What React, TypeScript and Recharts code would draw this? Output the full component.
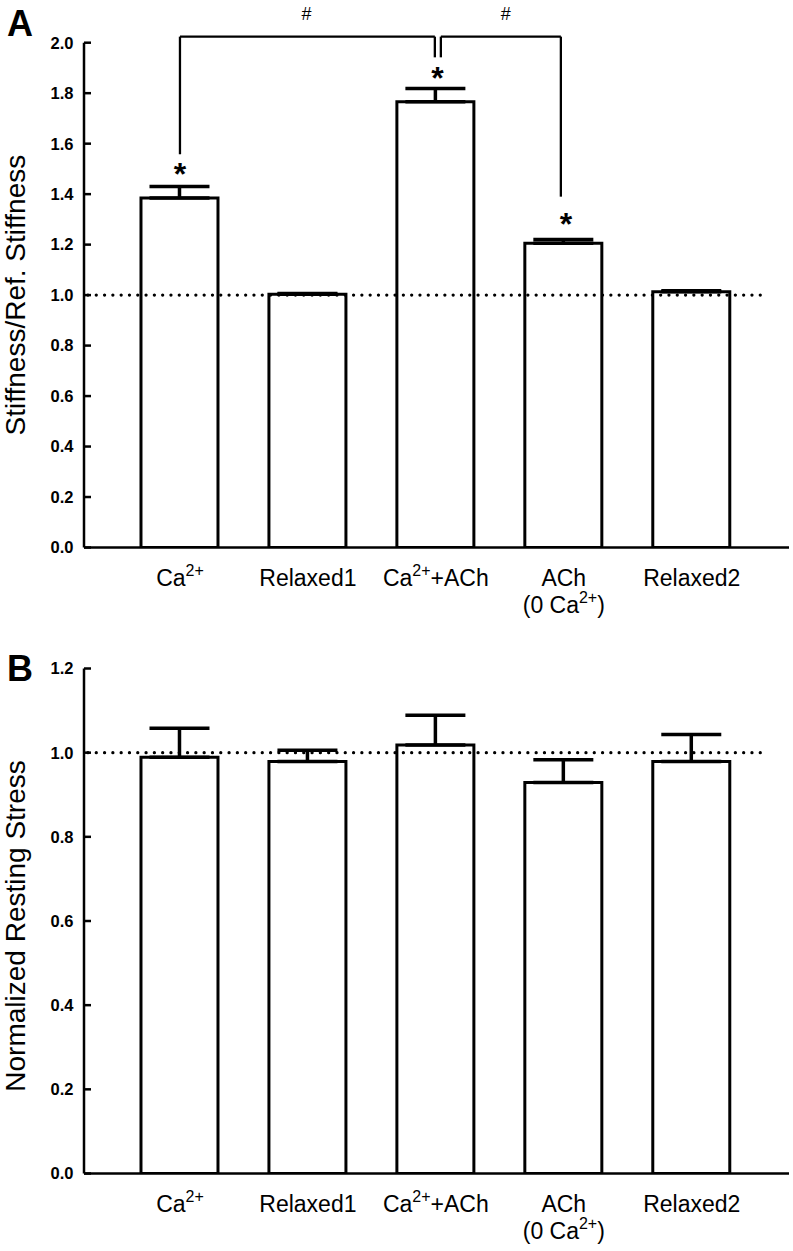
import React from 'react';
import { BarChart, Bar, XAxis, YAxis, ErrorBar, ReferenceLine, ReferenceDot, Label } from 'recharts';

const FONT = '"Liberation Sans", Arial, Helvetica, sans-serif';

// categories (index+1 is the x position on the numeric axis)
const categories = ['Ca2+', 'Relaxed1', 'Ca2++ACh', 'ACh (0 Ca2+)', 'Relaxed2'];
// x tick labels: "^" toggles superscript, "\n" starts a new line
const xTickLabels = ['Ca^2+', 'Relaxed1', 'Ca^2+^+ACh', 'ACh\n(0 Ca^2+^)', 'Relaxed2'];

// Panel A: stiffness / reference stiffness
const stiffnessMean = [1.385, 1.003, 1.766, 1.205, 1.013];
const stiffnessSem = [0.045, 0.003, 0.053, 0.015, 0.004];
const stiffnessTicks = [0, 0.2, 0.4, 0.6, 0.8, 1.0, 1.2, 1.4, 1.6, 1.8, 2.0];

// Panel B: normalized resting stress
const stressMean = [0.989, 0.979, 1.018, 0.929, 0.979];
const stressSem = [0.069, 0.027, 0.071, 0.054, 0.064];
const stressTicks = [0, 0.2, 0.4, 0.6, 0.8, 1.0, 1.2];

// significance annotations (data units)
const starMarks = [
  { x: 1.0, y: 1.508 },
  { x: 3.012, y: 1.888 },
  { x: 4.016, y: 1.311 },
];
const hashMarks = [
  { x: 1.99, y: 2.114 },
  { x: 3.547, y: 2.114 },
];
const bracketSegments = [
  [{ x: 1.0, y: 1.558 }, { x: 1.0, y: 2.024 }],
  [{ x: 1.0, y: 2.024 }, { x: 2.992, y: 2.024 }],
  [{ x: 2.992, y: 2.024 }, { x: 2.992, y: 1.942 }],
  [{ x: 3.039, y: 1.942 }, { x: 3.039, y: 2.024 }],
  [{ x: 3.039, y: 2.024 }, { x: 3.977, y: 2.024 }],
  [{ x: 3.977, y: 2.024 }, { x: 3.977, y: 1.39 }],
];
const refLineSpan = [0.281, 5.586];

const stiffnessData = categories.map((c, i) => ({
  pos: i + 1,
  name: c,
  mean: stiffnessMean[i],
  err: [0, stiffnessSem[i]],
}));
const stressData = categories.map((c, i) => ({
  pos: i + 1,
  name: c,
  mean: stressMean[i],
  err: [0, stressSem[i]],
}));

function CatTick(props: any) {
  const { x, y, payload } = props;
  const idx = Math.round(payload.value) - 1;
  const label = xTickLabels[idx] || '';
  const lines = label.split('\n');
  return (
    <g>
      {lines.map((line, li) => {
        const parts = line.split('^');
        let shift = 0;
        return (
          <text
            key={li}
            x={x}
            y={y + 38 + li * 27}
            textAnchor="middle"
            fontSize={23}
            fontFamily={FONT}
            fill="#000"
          >
            {parts.map((p, pi) => {
              const sup = pi % 2 === 1;
              const target = sup ? -9.5 : 0;
              const dy = target - shift;
              shift = target;
              return (
                <tspan key={pi} dy={dy} fontSize={sup ? 16 : 23}>
                  {p}
                </tspan>
              );
            })}
          </text>
        );
      })}
    </g>
  );
}

function YTitle(text: string, dyOffset: number) {
  return (props: any) => {
    const vb = props.viewBox || {};
    const cx = vb.x + 25;
    const cy = vb.y + vb.height / 2 + dyOffset;
    return (
      <text
        x={cx}
        y={cy}
        transform={`rotate(-90 ${cx} ${cy})`}
        textAnchor="middle"
        fontSize={28}
        fontFamily={FONT}
        fill="#000"
      >
        {text}
      </text>
    );
  };
}

const starShape = (props: any) => {
  const fs = 32;
  return (
    <text
      x={props.cx}
      y={props.cy + 0.57 * fs}
      textAnchor="middle"
      fontSize={fs}
      fontWeight="bold"
      fontFamily={FONT}
      fill="#000"
    >
      *
    </text>
  );
};

const hashShape = (props: any) => {
  const fs = 18;
  return (
    <text
      x={props.cx}
      y={props.cy + 0.36 * fs}
      textAnchor="middle"
      fontSize={fs}
      fontFamily={FONT}
      fill="#000"
    >
      #
    </text>
  );
};

function Panel(props: {
  data: any[];
  ticks: number[];
  domainMax: number;
  title: string;
  titleOffset: number;
  marginTop: number;
  height: number;
  annotate: boolean;
}) {
  const { data, ticks, domainMax, title, titleOffset, marginTop, height, annotate } = props;
  return (
    <BarChart
      width={793}
      height={height}
      data={data}
      margin={{ top: marginTop, right: 4, bottom: 17.5, left: 0 }}
    >
      <XAxis
        dataKey="pos"
        type="number"
        domain={[0.25, 5.76]}
        ticks={[1, 2, 3, 4, 5]}
        interval={0}
        allowDataOverflow
        height={60}
        tickLine={false}
        tickSize={0}
        tickMargin={0}
        axisLine={{ stroke: '#000', strokeWidth: 2.5 }}
        tick={<CatTick />}
      />
      <YAxis
        type="number"
        domain={[0, domainMax]}
        ticks={ticks}
        interval={0}
        allowDataOverflow
        width={84}
        tickSize={-7}
        tickMargin={17.5}
        tickLine={{ stroke: '#000', strokeWidth: 2.5 }}
        axisLine={{ stroke: '#000', strokeWidth: 2.5 }}
        tickFormatter={(v: number) => v.toFixed(1)}
        tick={{ fill: '#000', fontSize: 16.5, fontWeight: 'bold', fontFamily: FONT }}
      >
        <Label content={YTitle(title, titleOffset)} />
      </YAxis>
      <Bar
        dataKey="mean"
        barSize={77}
        fill="#fff"
        stroke="#000"
        strokeWidth={3}
        isAnimationActive={false}
      >
        <ErrorBar dataKey="err" direction="y" width={30} stroke="#000" strokeWidth={3.5} />
      </Bar>
      <ReferenceLine
        segment={[
          { x: refLineSpan[0], y: 1 },
          { x: refLineSpan[1], y: 1 },
        ]}
        ifOverflow="visible"
        stroke="#000"
        strokeWidth={3.3}
        strokeDasharray="0 8.3"
        strokeLinecap="round"
      />
      {annotate &&
        bracketSegments.map((seg, i) => (
          <ReferenceLine
            key={'br' + i}
            segment={seg}
            ifOverflow="visible"
            stroke="#000"
            strokeWidth={2.3}
          />
        ))}
      {annotate &&
        starMarks.map((m, i) => (
          <ReferenceDot key={'st' + i} x={m.x} y={m.y} r={0} ifOverflow="visible" shape={starShape} />
        ))}
      {annotate &&
        hashMarks.map((m, i) => (
          <ReferenceDot key={'h' + i} x={m.x} y={m.y} r={0} ifOverflow="visible" shape={hashShape} />
        ))}
    </BarChart>
  );
}

export default function App() {
  return (
    <div
      style={{
        position: 'absolute',
        left: 0,
        top: 0,
        width: 793,
        height: 1251,
        background: '#fff',
      }}
    >
      <div style={{ position: 'absolute', left: 0, top: 0 }}>
        <Panel
          data={stiffnessData}
          ticks={stiffnessTicks}
          domainMax={2}
          title="Stiffness/Ref. Stiffness"
          titleOffset={0}
          marginTop={42.7}
          height={625}
          annotate={true}
        />
      </div>
      <div style={{ position: 'absolute', left: 0, top: 625 }}>
        <Panel
          data={stressData}
          ticks={stressTicks}
          domainMax={1.2}
          title="Normalized Resting Stress"
          titleOffset={5}
          marginTop={43.5}
          height={626}
          annotate={false}
        />
      </div>
      <svg
        width={793}
        height={1251}
        style={{ position: 'absolute', left: 0, top: 0, pointerEvents: 'none' }}
      >
        <text x={7} y={36} fontSize={36} fontWeight="bold" fontFamily={FONT} fill="#000">
          A
        </text>
        <text x={7} y={681} fontSize={36} fontWeight="bold" fontFamily={FONT} fill="#000">
          B
        </text>
      </svg>
    </div>
  );
}
